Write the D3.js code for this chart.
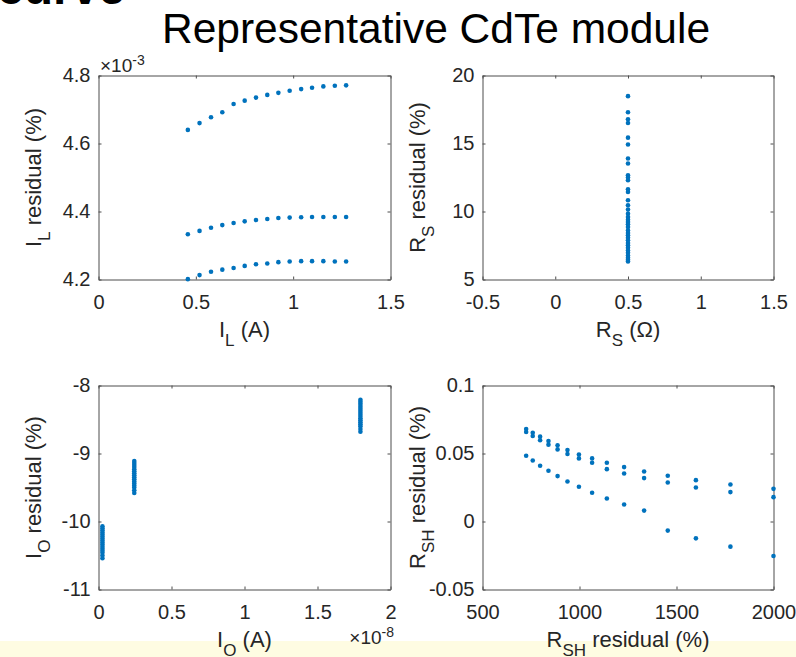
<!DOCTYPE html>
<html>
<head>
<meta charset="utf-8">
<script src="https://cdn.jsdelivr.net/npm/d3@7"></script>
<style>
  html, body { margin: 0; padding: 0; background: #fff; }
  svg { display: block; font-family: "Liberation Sans", Arial, Helvetica, sans-serif; }
</style>
</head>
<body>
<div id="chart-area"></div>
<script>
// ---- data ----

// I_L panel (residual in units of 1e-3 %)
const ilCurrent = [0.459, 0.519, 0.578, 0.636, 0.694, 0.751, 0.809, 0.867, 0.924, 0.982, 1.041, 1.097, 1.155, 1.214, 1.272];
const ilResidHigh = [4.640, 4.660, 4.677, 4.692, 4.716, 4.726, 4.735, 4.743, 4.749, 4.755, 4.760, 4.764, 4.768, 4.770, 4.771];
const ilResidMid = [4.333, 4.343, 4.352, 4.360, 4.366, 4.371, 4.375, 4.378, 4.381, 4.382, 4.383, 4.384, 4.384, 4.384, 4.384];
const ilResidLow = [4.201, 4.213, 4.223, 4.229, 4.234, 4.240, 4.245, 4.247, 4.251, 4.253, 4.254, 4.254, 4.254, 4.253, 4.253];

// R_S panel
const rsValue = 0.5;
const rsResid = [18.48, 17.30, 16.78, 16.51, 15.43, 14.93, 13.90, 13.53, 12.67, 12.50, 12.30, 11.64, 11.44, 10.83, 10.46, 10.14,
  9.84, 9.60, 9.40, 9.23, 9.06, 8.86, 8.61, 8.42, 8.25, 8.07, 7.88, 7.68, 7.51, 7.34, 7.14, 6.97, 6.77, 6.60, 6.45, 6.33];

// I_O panel (current in units of 1e-8 A)
const ioCurrent = [0.027, 0.245, 1.794];
const ioResidA = [-10.07, -10.10, -10.13, -10.16, -10.19, -10.22, -10.25, -10.28, -10.31, -10.34, -10.37, -10.40, -10.43, -10.46, -10.50, -10.54];
const ioResidB = [-9.11, -9.14, -9.17, -9.20, -9.23, -9.26, -9.29, -9.32, -9.35, -9.38, -9.41, -9.44, -9.47, -9.50, -9.54, -9.58];
const ioResidC = [-8.21, -8.24, -8.27, -8.30, -8.33, -8.36, -8.39, -8.42, -8.45, -8.48, -8.51, -8.54, -8.57, -8.60, -8.64, -8.68];

// R_SH panel
const rshValues = [725, 759, 797, 840, 887, 938, 997, 1065, 1141, 1230, 1333, 1455, 1600, 1778, 2000];
const rshResidA = [0.0680, 0.0653, 0.0624, 0.0592, 0.0560, 0.0525, 0.0493, 0.0464, 0.0432, 0.0400, 0.0368, 0.0336, 0.0304, 0.0272, 0.0240];
const rshResidB = [0.0658, 0.0629, 0.0597, 0.0565, 0.0530, 0.0496, 0.0464, 0.0432, 0.0385, 0.0353, 0.0319, 0.0287, 0.0250, 0.0216, 0.0179];
const rshResidC = [0.0484, 0.0449, 0.0410, 0.0373, 0.0334, 0.0294, 0.0255, 0.0211, 0.0169, 0.0125, 0.0080, -0.0067, -0.0124, -0.0185, -0.0254];

// tick values
const ilTicksX = [0, 0.5, 1, 1.5];
const ilTicksY = [4.2, 4.4, 4.6, 4.8];
const rsTicksX = [-0.5, 0, 0.5, 1, 1.5];
const rsTicksY = [5, 10, 15, 20];
const ioTicksX = [0, 0.5, 1, 1.5, 2];
const ioTicksY = [-11, -10, -9, -8];
const rshTicksX = [500, 1000, 1500, 2000];
const rshTicksY = [-0.05, 0, 0.05, 0.1];

// ---- drawing ----
const width = 796;
const height = 657;
const dotColor = '#0072BD';
const axisColor = '#4d4d4d';
const textColor = '#262626';

const svg = d3.select('#chart-area')
    .append('svg')
    .attr('width', width)
    .attr('height', height);

// pale yellow strip along the bottom edge
svg.append('rect')
    .attr('x', 0).attr('y', 641)
    .attr('width', width).attr('height', height - 641)
    .attr('fill', '#fefce2');

// cut-off heading at the very top
svg.append('text')
    .attr('x', -3).attr('y', 4)
    .attr('font-size', 48)
    .attr('font-weight', 'bold')
    .attr('fill', '#000')
    .text('curve');

svg.append('text')
    .attr('x', 436).attr('y', 43)
    .attr('text-anchor', 'middle')
    .attr('font-size', 42.5)
    .attr('fill', '#000')
    .text('Representative CdTe module');

const fmt = d => String(d);

// label made of pieces, some subscripted
function addLabel(x, y, parts, rotate) {
    const t = svg.append('text')
        .attr('transform', rotate ? `translate(${x},${y}) rotate(-90)` : `translate(${x},${y})`)
        .attr('text-anchor', 'middle')
        .attr('font-size', 22)
        .attr('fill', textColor);
    parts.forEach(p => {
        const s = t.append('tspan').text(p.text);
        if (p.sub) s.attr('font-size', 17).attr('dy', 9);
        else if (p.after) s.attr('dy', -9);
    });
    return t;
}

function drawPanel(cfg) {
    const x = d3.scaleLinear().domain(cfg.xDomain).range([cfg.left, cfg.right]);
    const y = d3.scaleLinear().domain(cfg.yDomain).range([cfg.bottom, cfg.top]);
    const g = svg.append('g');

    const styleAxis = sel => {
        sel.selectAll('path, line').attr('stroke', axisColor).attr('stroke-width', 1);
        sel.selectAll('text').attr('fill', textColor).attr('font-size', 20)
            .attr('font-family', '"Liberation Sans", Arial, sans-serif');
    };

    g.append('g').attr('transform', `translate(0,${cfg.bottom})`)
        .call(d3.axisBottom(x).tickValues(cfg.xTicks).tickSizeInner(-3).tickSizeOuter(0).tickPadding(15).tickFormat(fmt))
        .call(styleAxis);
    g.append('g').attr('transform', `translate(0,${cfg.top})`)
        .call(d3.axisTop(x).tickValues(cfg.xTicks).tickSizeInner(-3).tickSizeOuter(0).tickFormat(''))
        .call(styleAxis);
    g.append('g').attr('transform', `translate(${cfg.left},0)`)
        .call(d3.axisLeft(y).tickValues(cfg.yTicks).tickSizeInner(-3).tickSizeOuter(0).tickPadding(8).tickFormat(fmt))
        .call(styleAxis);
    g.append('g').attr('transform', `translate(${cfg.right},0)`)
        .call(d3.axisRight(y).tickValues(cfg.yTicks).tickSizeInner(-3).tickSizeOuter(0).tickFormat(''))
        .call(styleAxis);

    cfg.series.forEach(s => {
        g.append('g').selectAll('circle')
            .data(s.ys)
            .enter()
            .append('circle')
            .attr('cx', (d, i) => x(Array.isArray(s.xs) ? s.xs[i] : s.xs))
            .attr('cy', d => y(d))
            .attr('r', 2.3)
            .attr('fill', dotColor);
    });

    const cx = (cfg.left + cfg.right) / 2;
    const cy = (cfg.top + cfg.bottom) / 2;
    addLabel(cx, cfg.bottom + 57, cfg.xLabel, false);
    addLabel(cfg.left - 58, cy, cfg.yLabel, true);
}

const L1 = 98.5, R1 = 390.5, L2 = 482.5, R2 = 773.5;
const T1 = 75.5, B1 = 279.5, T2 = 385.5, B2 = 589.5;

drawPanel({
    left: L1, right: R1, top: T1, bottom: B1,
    xDomain: [0, 1.5], yDomain: [4.2, 4.8],
    xTicks: ilTicksX, yTicks: ilTicksY,
    series: [
        { xs: ilCurrent, ys: ilResidHigh },
        { xs: ilCurrent, ys: ilResidMid },
        { xs: ilCurrent, ys: ilResidLow }
    ],
    xLabel: [{ text: 'I' }, { text: 'L', sub: true }, { text: ' (A)', after: true }],
    yLabel: [{ text: 'I' }, { text: 'L', sub: true }, { text: ' residual (%)', after: true }]
});

drawPanel({
    left: L2, right: R2, top: T1, bottom: B1,
    xDomain: [-0.5, 1.5], yDomain: [5, 20],
    xTicks: rsTicksX, yTicks: rsTicksY,
    series: [{ xs: rsValue, ys: rsResid }],
    xLabel: [{ text: 'R' }, { text: 'S', sub: true }, { text: ' (\u03A9)', after: true }],
    yLabel: [{ text: 'R' }, { text: 'S', sub: true }, { text: ' residual (%)', after: true }]
});

drawPanel({
    left: L1, right: R1, top: T2, bottom: B2,
    xDomain: [0, 2], yDomain: [-11, -8],
    xTicks: ioTicksX, yTicks: ioTicksY,
    series: [
        { xs: ioCurrent[0], ys: ioResidA },
        { xs: ioCurrent[1], ys: ioResidB },
        { xs: ioCurrent[2], ys: ioResidC }
    ],
    xLabel: [{ text: 'I' }, { text: 'O', sub: true }, { text: ' (A)', after: true }],
    yLabel: [{ text: 'I' }, { text: 'O', sub: true }, { text: ' residual (%)', after: true }]
});

drawPanel({
    left: L2, right: R2, top: T2, bottom: B2,
    xDomain: [500, 2000], yDomain: [-0.05, 0.1],
    xTicks: rshTicksX, yTicks: rshTicksY,
    series: [
        { xs: rshValues, ys: rshResidA },
        { xs: rshValues, ys: rshResidB },
        { xs: rshValues, ys: rshResidC }
    ],
    xLabel: [{ text: 'R' }, { text: 'SH', sub: true }, { text: ' residual (%)', after: true }],
    yLabel: [{ text: 'R' }, { text: 'SH', sub: true }, { text: ' residual (%)', after: true }]
});

// exponent labels
function addExponent(x, y, anchor, exp) {
    const t = svg.append('text')
        .attr('x', x).attr('y', y)
        .attr('text-anchor', anchor)
        .attr('font-size', 19)
        .attr('fill', textColor);
    t.append('tspan').text('\u00D710');
    t.append('tspan').attr('dy', -7).attr('font-size', 14).text(exp);
}
addExponent(100, 72, 'start', '-3');
addExponent(394, 644, 'end', '-8');
</script>
</body>
</html>
